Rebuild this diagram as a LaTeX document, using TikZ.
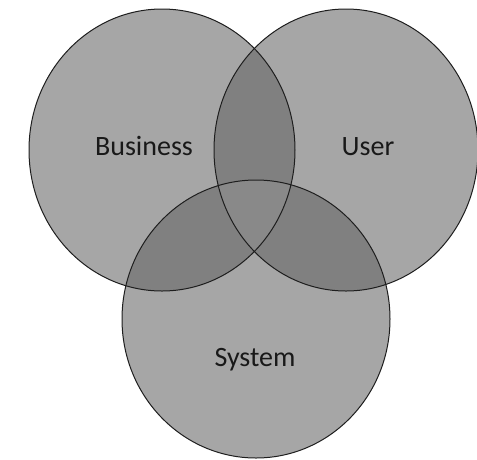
\documentclass[tikz,border=0pt]{standalone}
\usepackage{fontspec}
\setmainfont{Carlito}
\definecolor{oneGray}{HTML}{A6A6A6}
\definecolor{twoGray}{HTML}{808080}
\definecolor{threeGray}{HTML}{898989}
\definecolor{edgeGray}{HTML}{1E1E1E}
\newcommand{\bizE}{(162,-150) ellipse [x radius=133, y radius=141]}
\newcommand{\usrE}{(346,-150) ellipse [x radius=132, y radius=141]}
\newcommand{\sysE}{(256,-319) ellipse [x radius=134, y radius=139]}
\begin{document}
\begin{tikzpicture}[x=1pt,y=1pt,
  outline/.style={draw=edgeGray, line width=1pt},
  lbl/.style={font=\fontsize{28}{30}\selectfont, text=black!90, anchor=base, inner sep=0pt}]
\useasboundingbox (0,0) rectangle (477,-459);
\begin{scope}
\clip (0,0) rectangle (477,-459);
% single fills
\fill[oneGray] \bizE;
\fill[oneGray] \usrE;
\fill[oneGray] \sysE;
% pairwise overlaps
\begin{scope}\clip \bizE; \fill[twoGray] \usrE; \fill[twoGray] \sysE; \end{scope}
\begin{scope}\clip \usrE; \fill[twoGray] \sysE; \end{scope}
% triple overlap
\begin{scope}\clip \bizE; \clip \usrE; \fill[threeGray] \sysE; \end{scope}
% outlines
\draw[outline] \bizE;
\draw[outline] \usrE;
\draw[outline] \sysE;
\end{scope}
\node[lbl] (business) at (144,-155) {Business};
\node[lbl] (user) at (368,-155) {User};
\node[lbl] (system) at (255,-366) {System};
\end{tikzpicture}
\end{document}
